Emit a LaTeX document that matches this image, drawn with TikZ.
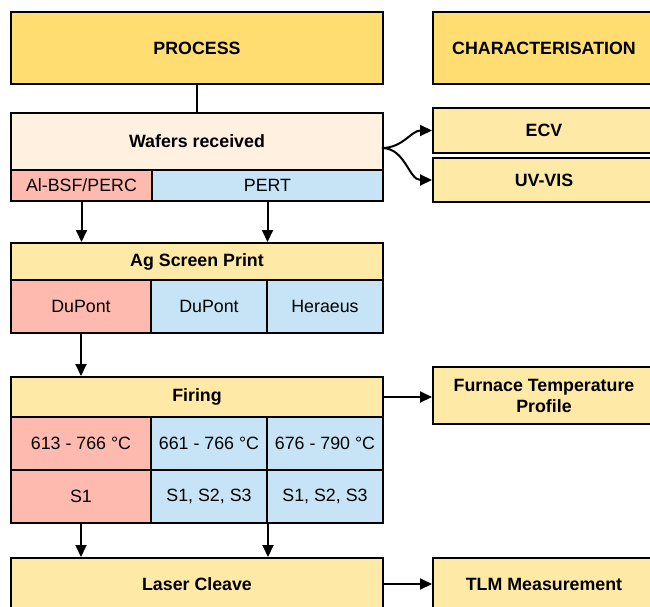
\documentclass[tikz,border=0pt]{standalone}
\usepackage{fontspec}
\setmainfont{Liberation Sans}
\usetikzlibrary{arrows.meta}
\definecolor{gold}{HTML}{FFDD71}
\definecolor{paleGold}{HTML}{FFE9A6}
\definecolor{peach}{HTML}{FFF0DF}
\definecolor{rose}{HTML}{FFBAB0}
\definecolor{sky}{HTML}{C6E4F6}
\tikzset{
  box/.style={draw, line width=2pt, anchor=north west, inner sep=0pt, align=center,
    font=\fontsize{17.8}{21}\selectfont},
  head/.style={box, font=\fontsize{17.8}{21}\selectfont\bfseries},
  arr/.style={line width=2pt, -{Triangle[length=12pt,width=11pt]}},
}
\begin{document}
\begin{tikzpicture}[x=1pt,y=-1pt]
    \useasboundingbox (0,0) rectangle (650,607);
    \clip (0,0) rectangle (650,607);
    % column titles
    \node[head, fill=gold, minimum width=372pt, minimum height=72pt] (process) at (10,11) {PROCESS};
    \node[head, fill=gold, minimum width=222pt, minimum height=72pt] (charac) at (432,11) {CHARACTERISATION};
    % wafers
    \node[head, fill=peach, minimum width=372pt, minimum height=57pt] (wafers) at (10,112) {Wafers received};
    \node[box, fill=rose, minimum width=141pt, minimum height=31pt] (albsf) at (10,169) {Al-BSF/PERC};
    \node[box, fill=sky, minimum width=231pt, minimum height=31pt] (pert) at (151,169) {PERT};
    \node[head, fill=paleGold, minimum width=222pt, minimum height=45pt] (ecv) at (432,107) {ECV};
    \node[head, fill=paleGold, minimum width=222pt, minimum height=44pt] (uvvis) at (432,157) {UV-VIS};
    % screen print
    \node[head, fill=paleGold, minimum width=372pt, minimum height=37pt] (aghead) at (10,242) {Ag Screen Print};
    \node[box, fill=rose, minimum width=140pt, minimum height=53pt] (paste1) at (10,279) {DuPont};
    \node[box, fill=sky, minimum width=116pt, minimum height=53pt] (paste2) at (150,279) {DuPont};
    \node[box, fill=sky, minimum width=116pt, minimum height=53pt] (paste3) at (266,279) {Heraeus};
    % firing
    \node[head, fill=paleGold, minimum width=372pt, minimum height=40pt] (firehead) at (10,376) {Firing};
    \node[box, fill=rose, minimum width=140pt, minimum height=53pt] (t1) at (10,416) {613 - 766 °C};
    \node[box, fill=sky, minimum width=116pt, minimum height=53pt] (t2) at (150,416) {661 - 766 °C};
    \node[box, fill=sky, minimum width=116pt, minimum height=53pt] (t3) at (266,416) {676 - 790 °C};
    \node[box, fill=rose, minimum width=140pt, minimum height=53pt] (s1) at (10,469) {S1};
    \node[box, fill=sky, minimum width=116pt, minimum height=53pt] (s2) at (150,469) {S1, S2, S3};
    \node[box, fill=sky, minimum width=116pt, minimum height=53pt] (s3) at (266,469) {S1, S2, S3};
    \node[head, fill=paleGold, minimum width=222pt, minimum height=57pt] (furnace) at (432,366) {Furnace Temperature\\Profile};
    % cleave
    \node[head, fill=paleGold, minimum width=372pt, minimum height=52pt] (laser) at (10,557) {Laser Cleave};
    \node[head, fill=paleGold, minimum width=222pt, minimum height=52pt] (tlm) at (432,557) {TLM Measurement};

    \draw[line width=2pt] (process.south) -- (wafers.north);
    \coordinate (fork) at (382,148);
    \draw[arr] (fork) to[out=0,in=180] (ecv.west);
    \draw[arr] (fork) to[out=0,in=180] (uvvis.west);
    \draw[arr] (albsf.south) -- (albsf.south |- aghead.north);
    \draw[arr] (pert.south) -- (pert.south |- aghead.north);
    \draw[arr] (paste1.south) -- (paste1.south |- firehead.north);
    \draw[arr] (firehead.east) -- (firehead.east -| furnace.west);
    \draw[arr] (s1.south) -- (s1.south |- laser.north);
    \draw[arr] (s2.south east) -- (s2.south east |- laser.north);
    \draw[arr] (laser.east) -- (tlm.west);
\end{tikzpicture}
\end{document}
